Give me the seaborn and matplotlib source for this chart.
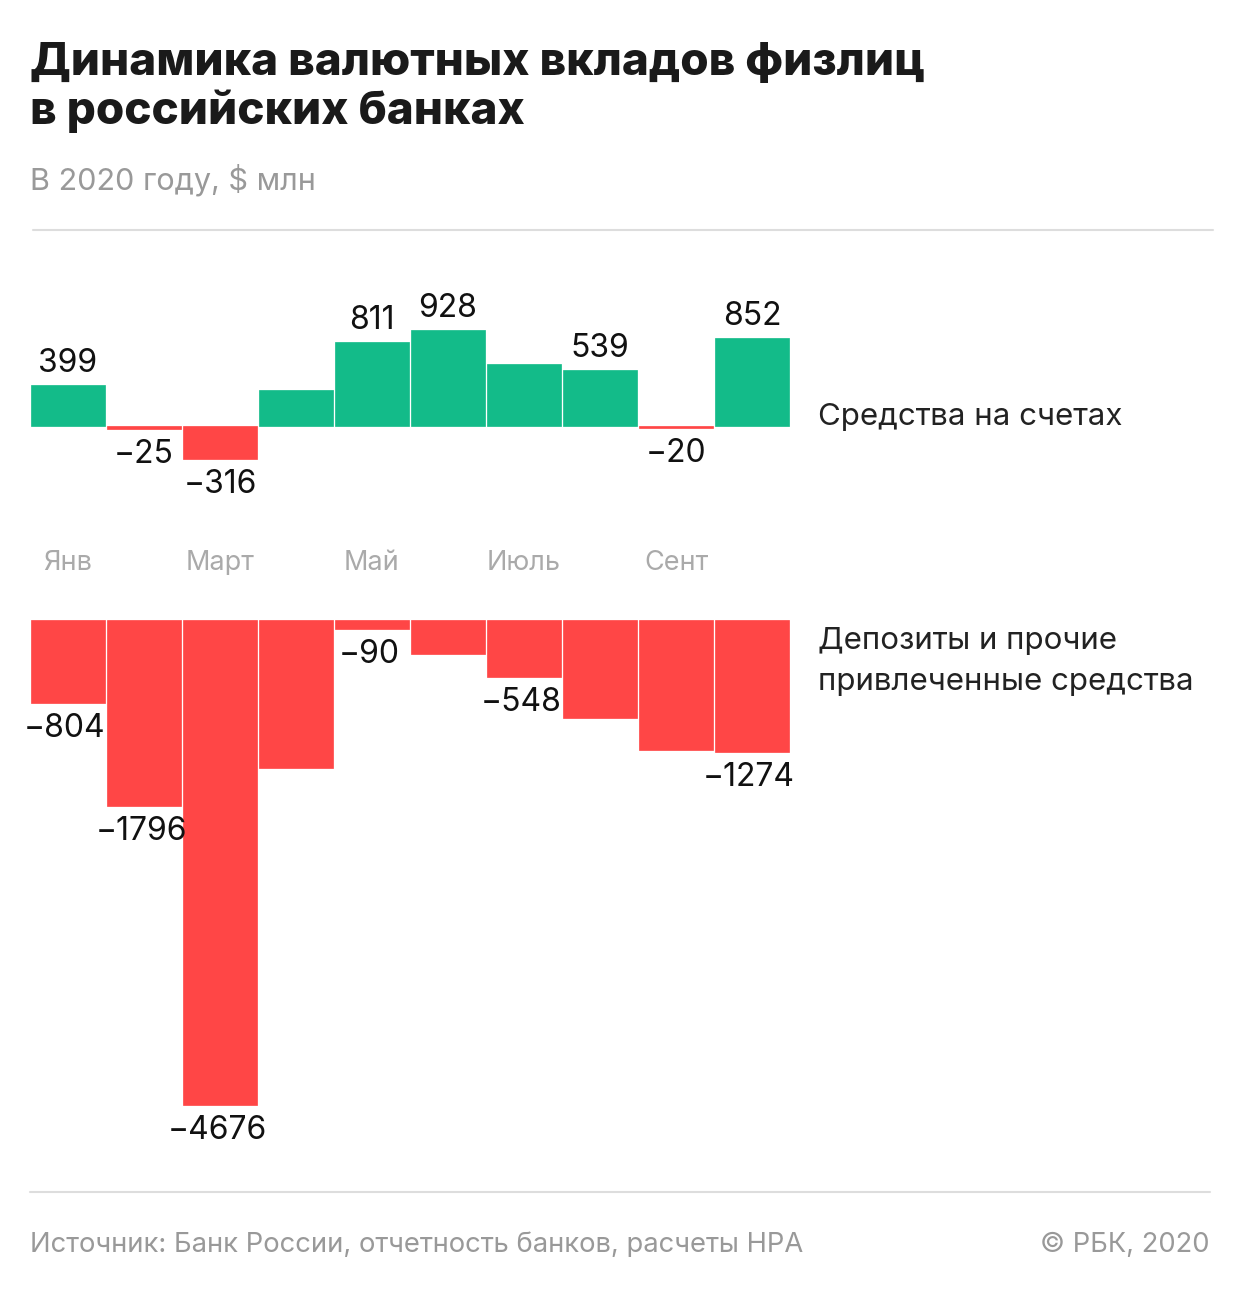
import matplotlib
matplotlib.use("Agg")
import matplotlib.pyplot as plt
import seaborn as sns
from matplotlib.lines import Line2D
from matplotlib.transforms import blended_transform_factory

# data
months = ["Янв", "Фев", "Март", "Апр", "Май", "Июнь", "Июль", "Авг", "Сент", "Окт"]
accounts = [399, -25, -316, 348, 811, 928, 600, 539, -20, 852]
deposits = [-804, -1796, -4676, -1424, -90, -327, -548, -943, -1250, -1274]
accounts_shown = [True, True, True, False, True, True, False, True, True, True]
deposits_shown = [True, True, True, False, True, False, True, False, False, True]
month_ticks = ["Янв", "Март", "Май", "Июль", "Сент"]

GREEN = "#13bb89"
RED = "#ff4646"
W, H = 1240, 1292
S = 0.1037  # px per $ mln

sns.set_theme(style="white")
plt.rcParams["font.family"] = ["Inter", "DejaVu Sans"]

fig = plt.figure(figsize=(W / 100, H / 100), dpi=100)


def ax_box(x0, x1, ytop, ybot):
    return [x0 / W, 1 - ybot / H, (x1 - x0) / W, (ybot - ytop) / H]


def fy(y):
    return 1 - y / H


def fx(x):
    return x / W


def draw_bars(ax, vals, colors):
    sns.barplot(x=months, y=vals, hue=months, legend=False, width=0.965,
                palette=colors, saturation=1, ax=ax)
    for p, c in zip(ax.patches, colors):
        p.set_edgecolor(c)
        p.set_linewidth(0.5)


# top panel
top_lim = (-600, 1100)
ax1 = fig.add_axes(ax_box(30, 790, 426 - top_lim[1] * S, 426 - top_lim[0] * S))
draw_bars(ax1, accounts, [GREEN if v > 0 else RED for v in accounts])
ax1.set_ylim(*top_lim)
ax1.set_xlim(-0.5, 9.5)
for i, (v, show) in enumerate(zip(accounts, accounts_shown)):
    if not show:
        continue
    if v > 0:
        ax1.annotate(str(v), xy=(i, v), xytext=(0, 6), textcoords="offset pixels",
                     ha="center", va="bottom", fontsize=23, color="#111111")
    else:
        ax1.annotate("\u2212" + str(-v), xy=(i, v), xytext=(0, -10), textcoords="offset pixels",
                     ha="center", va="top", fontsize=23, color="#111111")

# bottom panel
bot_lim = (-5000, 0)
ax2 = fig.add_axes(ax_box(30, 790, 620, 620 - bot_lim[0] * S))
draw_bars(ax2, deposits, [RED] * len(deposits))
ax2.set_ylim(*bot_lim)
ax2.set_xlim(-0.5, 9.5)
for i, (v, show) in enumerate(zip(deposits, deposits_shown)):
    if show:
        ax2.annotate("\u2212" + str(-v), xy=(i, v), xytext=(-3, -10), textcoords="offset pixels",
                     ha="center", va="top", fontsize=23, color="#111111",
                     annotation_clip=False)

for ax in (ax1, ax2):
    ax.axis("off")

# month labels
tr = blended_transform_factory(ax1.transData, fig.transFigure)
for m in month_ticks:
    ax1.text(months.index(m), fy(570), m, transform=tr, ha="center", va="baseline",
             fontsize=19.5, color="#aaaaaa", clip_on=False)

# series labels
fig.text(fx(818), fy(425), "Средства на счетах", fontsize=22.5, color="#222222", va="baseline")
fig.text(fx(818), fy(649), "Депозиты и прочие", fontsize=22.5, color="#222222", va="baseline")
fig.text(fx(818), fy(690), "привлеченные средства", fontsize=22.5, color="#222222", va="baseline")

# header
fig.text(fx(30), fy(75), "Динамика валютных вкладов физлиц", fontsize=33,
         fontweight="heavy", color="#1a1a1a", va="baseline")
fig.text(fx(30), fy(124), "в российских банках", fontsize=33,
         fontweight="heavy", color="#1a1a1a", va="baseline")
fig.text(fx(30), fy(190), "В 2020 году, $ млн", fontsize=22, color="#999999", va="baseline")
fig.add_artist(Line2D([fx(33), fx(1213)], [fy(230), fy(230)], color="#dddddd", lw=1.5))

# footer
fig.add_artist(Line2D([fx(30), fx(1210)], [fy(1192), fy(1192)], color="#dddddd", lw=1.5))
fig.text(fx(30), fy(1252), "Источник: Банк России, отчетность банков, расчеты НРА",
         fontsize=19.7, color="#999999", va="baseline")
fig.text(fx(1210), fy(1252), "© РБК, 2020", fontsize=19.7, color="#999999",
         va="baseline", ha="right")

fig.savefig("out.png", dpi=100, facecolor="white")
